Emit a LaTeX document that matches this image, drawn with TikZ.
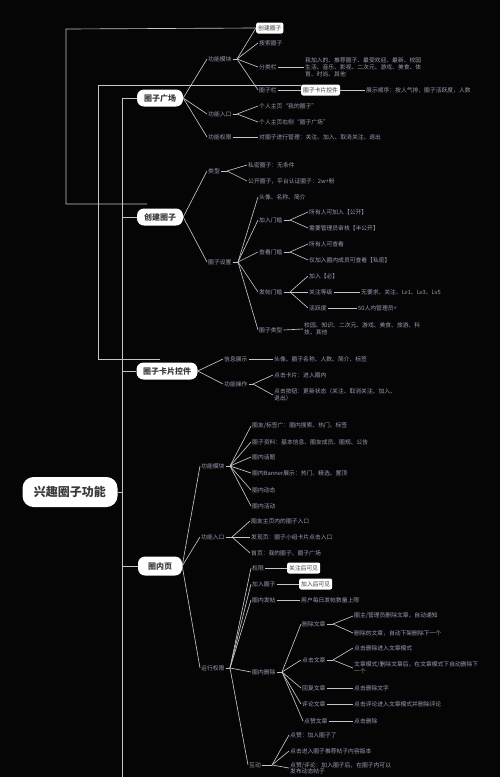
\documentclass[tikz,border=0pt]{standalone}
\usepackage{fontspec}
\setmainfont{Noto Sans CJK SC}
\definecolor{bg}{HTML}{050505}
\definecolor{lnc}{HTML}{C4C4CA}
\definecolor{ltc}{HTML}{9C9CB8}
\definecolor{bxc}{HTML}{3A3A3A}
\begin{document}
\begin{tikzpicture}[x=1pt,y=-1pt,
  lf/.style={text=ltc,font=\fontsize{5.8}{7}\selectfont,inner sep=1pt,anchor=west,align=left},
  mb/.style={fill=white,text=bxc,rounded corners=7pt,font=\bfseries\fontsize{8}{9}\selectfont,minimum height=17pt,inner xsep=4pt},
  wb/.style={fill=white,text=bxc,rounded corners=2pt,font=\fontsize{5.8}{7}\selectfont,inner sep=2pt,anchor=west,minimum height=11pt},
  cn/.style={draw=lnc,line width=0.65pt}]
\fill[bg] (0,0) rectangle (500,777);
\useasboundingbox (0,0) rectangle (500,777);

% root and main branches
\node[mb,font=\bfseries\fontsize{12}{14}\selectfont,minimum width=95pt,minimum height=30pt,rounded corners=11pt] (root) at (70,492) {兴趣圈子功能};
\node[mb,minimum width=46pt] (m1) at (160,98) {圈子广场};
\node[mb,minimum width=46pt] (m2) at (160,217) {创建圈子};
\node[mb,minimum width=61pt] (m3) at (167,371) {圈子卡片控件};
\node[mb,minimum width=44pt,minimum height=19pt] (m4) at (160,566) {圈内页};

\coordinate (t1) at (122,98);
\coordinate (t2) at (122,217);
\coordinate (t3) at (122,371);
\coordinate (t4) at (122,566);
\coordinate (tr) at (122,492);
\coordinate (tb) at (122,777);
\draw[cn] (root.east) -- (tr);
\draw[cn] (t1) -- (tb);
\draw[cn] (t1) -- (m1.west);
\draw[cn] (t2) -- (m2.west);
\draw[cn] (t3) -- (m3.west);
\draw[cn] (t4) -- (m4.west);

% ===== 圈子广场 =====
\node[lf] (a1) at (207,59) {功能模块};
\node[lf] (a2) at (207,114) {功能入口};
\node[lf] (a3) at (207,137) {功能权限};
\foreach \n in {a1,a2,a3} \draw[cn] (m1.east) -- (\n.west);

\coordinate (a1f) at (237,59);
\draw[cn] (a1.east) -- (a1f);
\node[wb] (b1) at (256,28) {创建圈子};
\node[lf] (b2) at (258,43) {搜索圈子};
\node[lf] (b3) at (258,67) {分类栏};
\node[lf] (b4) at (258,90) {圈子栏};
\foreach \n in {b1,b2,b3,b4} \draw[cn] (a1f) -- (\n.west);
\node[lf] (b3c) at (304,67) {我加入的、推荐圈子、最受欢迎、最新、校园\\生活、音乐、影视、二次元、游戏、美食、体\\育、时尚、其他};
\draw[cn] (b3.east) -- (b3c.west);
\node[wb] (b4c) at (301,90) {圈子卡片控件};
\draw[cn] (b4.east) -- (b4c.west);
\node[lf] (b4d) at (365,90) {展示顺序：按人气排，圈子活跃度，人数};
\draw[cn] (b4c.east) -- (b4d.west);

\coordinate (a2f) at (237,114);
\draw[cn] (a2.east) -- (a2f);
\node[lf] (b5) at (258,106) {个人主页“我的圈子”};
\node[lf] (b6) at (258,122) {个人主页右侧“圈子广场”};
\foreach \n in {b5,b6} \draw[cn] (a2f) -- (\n.west);
\node[lf] (b7) at (258,137) {对圈子进行管理：关注、加入、取消关注、退出};
\draw[cn] (a3.east) -- (b7.west);

% cross links
\coordinate (k1) at (66,29);
\coordinate (k2) at (66,204);
\coordinate (k3) at (147,204);
\draw[cn] (b1.west) -- (k1) -- (k2) -- (k3);
\coordinate (l0) at (301,85);
\coordinate (l1) at (98,85);
\coordinate (l2) at (98,359);
\coordinate (l3) at (160,359);
\draw[cn] (l0) -- (l1) -- (l2) -- (l3);

% ===== 创建圈子 =====
\node[lf] (c1) at (207,171) {类型};
\node[lf] (c2) at (207,262) {圈子设置};
\foreach \n in {c1,c2} \draw[cn] (m2.east) -- (\n.west);
\coordinate (c1f) at (227,171);
\draw[cn] (c1.east) -- (c1f);
\node[lf] (c11) at (247,165) {私密圈子：无条件};
\node[lf] (c12) at (247,181) {公开圈子，平台认证圈子：2w+粉};
\foreach \n in {c11,c12} \draw[cn] (c1f) -- (\n.west);

\coordinate (c2f) at (238,262);
\draw[cn] (c2.east) -- (c2f);
\node[lf] (d1) at (258,197) {头像、名称、简介};
\node[lf] (d2) at (258,220) {加入门槛};
\node[lf] (d3) at (258,252) {查看门槛};
\node[lf] (d4) at (258,292) {发帖门槛};
\node[lf] (d5) at (258,330) {圈子类型};
\foreach \n in {d1,d2,d3,d4,d5} \draw[cn] (c2f) -- (\n.west);

\coordinate (d2f) at (290,220);
\draw[cn] (d2.east) -- (d2f);
\node[lf] (d21) at (308,212) {所有人可加入【公开】};
\node[lf] (d22) at (308,228) {需要管理员审核【半公开】};
\foreach \n in {d21,d22} \draw[cn] (d2f) -- (\n.west);

\coordinate (d3f) at (290,252);
\draw[cn] (d3.east) -- (d3f);
\node[lf] (d31) at (308,244) {所有人可查看};
\node[lf] (d32) at (308,260) {仅加入圈内成员可查看【私密】};
\foreach \n in {d31,d32} \draw[cn] (d3f) -- (\n.west);

\coordinate (d4f) at (290,292);
\draw[cn] (d4.east) -- (d4f);
\node[lf] (d41) at (308,276) {加入【必】};
\node[lf] (d42) at (308,292) {关注等级};
\node[lf] (d43) at (308,308) {活跃度};
\foreach \n in {d41,d42,d43} \draw[cn] (d4f) -- (\n.west);
\node[lf] (d42c) at (360,292) {无要求、关注、Lv1、Lv3、Lv5};
\draw[cn] (d42.east) -- (d42c.west);
\node[lf] (d43c) at (357,308) {50人内管理员+};
\draw[cn] (d43.east) -- (d43c.west);

\node[lf] (d5c) at (303,329) {校园、知识、二次元、游戏、美食、旅游、科\\技、其他};
\draw[cn] (d5.east) -- (d5c.west);

% ===== 圈子卡片控件 =====
\node[lf] (e1) at (223,359) {信息展示};
\node[lf] (e2) at (223,384) {功能操作};
\foreach \n in {e1,e2} \draw[cn] (m3.east) -- (\n.west);
\node[lf] (e1c) at (273,359) {头像、圈子名称、人数、简介、标签};
\draw[cn] (e1.east) -- (e1c.west);
\coordinate (e2f) at (253,384);
\draw[cn] (e2.east) -- (e2f);
\node[lf] (e21) at (273,375) {点击卡片：进入圈内};
\node[lf] (e22) at (273,395) {点击按钮：更新状态（关注、取消关注、加入、\\退出）};
\foreach \n in {e21,e22} \draw[cn] (e2f) -- (\n.west);

% ===== 圈内页 =====
\node[lf] (f1) at (200,466) {功能模块};
\node[lf] (f2) at (200,537) {功能入口};
\node[lf] (f3) at (200,668) {运行权限};
\foreach \n in {f1,f2,f3} \draw[cn] (m4.east) -- (\n.west);

\coordinate (f1f) at (230,466);
\draw[cn] (f1.east) -- (f1f);
\node[lf] (p1) at (251,426) {圈友/标签广：圈内搜索、热门、标签};
\node[lf] (p2) at (251,442) {圈子资料：基本信息、圈友成员、圈规、公告};
\node[lf] (p3) at (251,457) {圈内话题};
\node[lf] (p4) at (251,473) {圈内Banner展示：热门、精选、置顶};
\node[lf] (p5) at (251,490) {圈内动态};
\node[lf] (p6) at (251,506) {圈内活动};
\foreach \n in {p1,p2,p3,p4,p5,p6} \draw[cn] (f1f) -- (\n.west);

\coordinate (f2f) at (232,537);
\draw[cn] (f2.east) -- (f2f);
\node[lf] (q1) at (250,521) {圈友主页内的圈子入口};
\node[lf] (q2) at (250,537) {发现页：圈子小组卡片点击入口};
\node[lf] (q3) at (250,553) {首页：我的圈子、圈子广场};
\foreach \n in {q1,q2,q3} \draw[cn] (f2f) -- (\n.west);

\coordinate (f3f) at (230,668);
\draw[cn] (f3.east) -- (f3f);
\node[lf] (g1) at (251,568) {权限};
\node[lf] (g2) at (251,584) {加入圈子};
\node[lf] (g3) at (251,600) {圈内发帖};
\node[lf] (g4) at (251,672) {圈内删除};
\node[lf] (g5) at (248,765) {互动};
\foreach \n in {g1,g2,g3,g4,g5} \draw[cn] (f3f) -- (\n.west);
\node[wb] (g1c) at (287,568) {关注后可见};
\draw[cn] (g1.east) -- (g1c.west);
\node[wb] (g2c) at (299,584) {加入后可见};
\draw[cn] (g2.east) -- (g2c.west);
\node[lf] (g3c) at (300,600) {用户每日发帖数量上限};
\draw[cn] (g3.east) -- (g3c.west);

\coordinate (g4f) at (282,672);
\draw[cn] (g4.east) -- (g4f);
\node[lf] (h1) at (301,624) {删除文章};
\node[lf] (h2) at (301,660) {点击文章};
\node[lf] (h3) at (301,688) {回复文章};
\node[lf] (h4) at (301,704) {评论文章};
\node[lf] (h5) at (303,721) {点赞文章};
\foreach \n in {h1,h2,h3,h4,h5} \draw[cn] (g4f) -- (\n.west);

\coordinate (h1f) at (333,624);
\draw[cn] (h1.east) -- (h1f);
\node[lf] (h11) at (353,616) {圈主/管理员删除文章，自动通知};
\node[lf] (h12) at (353,633) {删除的文章，自动下架删除下一个};
\foreach \n in {h11,h12} \draw[cn] (h1f) -- (\n.west);
\coordinate (h2f) at (333,660);
\draw[cn] (h2.east) -- (h2f);
\node[lf] (h21) at (353,648) {点击删除进入文章模式};
\node[lf] (h22) at (353,668) {文章模式/删除文章后，在文章模式下自动删除下\\一个};
\foreach \n in {h21,h22} \draw[cn] (h2f) -- (\n.west);
\node[lf] (h3c) at (353,688) {点击删除文字};
\draw[cn] (h3.east) -- (h3c.west);
\node[lf] (h4c) at (353,704) {点击评论进入文章模式并删除评论};
\draw[cn] (h4.east) -- (h4c.west);
\node[lf] (h5c) at (353,721) {点击删除};
\draw[cn] (h5.east) -- (h5c.west);

\coordinate (g5f) at (272,765);
\draw[cn] (g5.east) -- (g5f);
\node[lf] (r1) at (289,735) {点赞：加入圈子了};
\node[lf] (r2) at (289,751) {点击进入圈子推荐帖子内容版本};
\node[lf,font=\fontsize{5.8}{6.4}\selectfont] (r3) at (289,768) {点赞/评论：加入圈子后，在圈子内可以\\发布动态帖子};
\foreach \n in {r1,r2,r3} \draw[cn] (g5f) -- (\n.west);
\end{tikzpicture}
\end{document}
